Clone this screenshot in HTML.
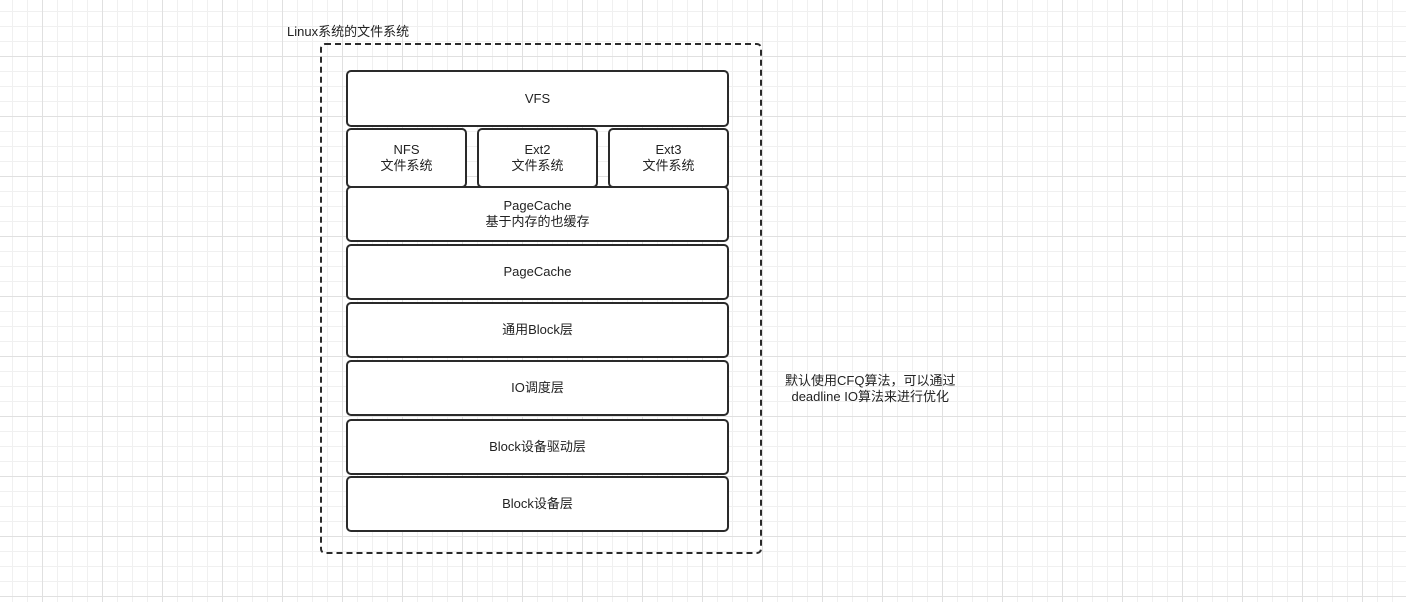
<!DOCTYPE html>
<html><head><meta charset="utf-8"><style>
html,body{margin:0;padding:0}
body{width:1406px;height:602px;position:relative;overflow:hidden;background-color:#fff;
background-image:
linear-gradient(to right,#e0e0e0 1px,transparent 1px),
linear-gradient(to bottom,#e0e0e0 1px,transparent 1px),
linear-gradient(to right,#f0f0f0 1px,transparent 1px),
linear-gradient(to bottom,#f0f0f0 1px,transparent 1px);
background-size:60px 60px,60px 60px,15px 15px,15px 15px;
background-position:42px 56px,42px 56px,12px 11px,12px 11px;
font-family:"Liberation Sans","Noto Sans CJK SC",sans-serif;color:#222;font-size:13px}
.b{position:absolute;box-sizing:border-box;border:2px solid #2a2a2a;border-radius:5px;background:#fff;
display:flex;align-items:center;justify-content:center;text-align:center;line-height:16px}
.t{position:absolute;white-space:nowrap}
</style></head><body>
<div class="t" style="left:287px;top:21px">Linux系统的文件系统</div>
<div style="position:absolute;left:320px;top:43px;width:442px;height:511px;box-sizing:border-box;border:2px dashed #2a2a2a;border-radius:5px"></div>
<div class="b" style="left:346px;top:70px;width:383px;height:57px">VFS</div>
<div class="b" style="left:346px;top:128px;width:121px;height:60px">NFS<br>文件系统</div>
<div class="b" style="left:477px;top:128px;width:121px;height:60px">Ext2<br>文件系统</div>
<div class="b" style="left:608px;top:128px;width:121px;height:60px">Ext3<br>文件系统</div>
<div class="b" style="left:346px;top:186px;width:383px;height:56px">PageCache<br>基于内存的也缓存</div>
<div class="b" style="left:346px;top:244px;width:383px;height:56px">PageCache</div>
<div class="b" style="left:346px;top:302px;width:383px;height:56px">通用Block层</div>
<div class="b" style="left:346px;top:360px;width:383px;height:56px">IO调度层</div>
<div class="b" style="left:346px;top:419px;width:383px;height:56px">Block设备驱动层</div>
<div class="b" style="left:346px;top:476px;width:383px;height:56px">Block设备层</div>
<div class="t" style="left:785px;top:373px;line-height:16px;text-align:center">默认使用CFQ算法，可以通过<br>deadline IO算法来进行优化</div>
</body></html>
